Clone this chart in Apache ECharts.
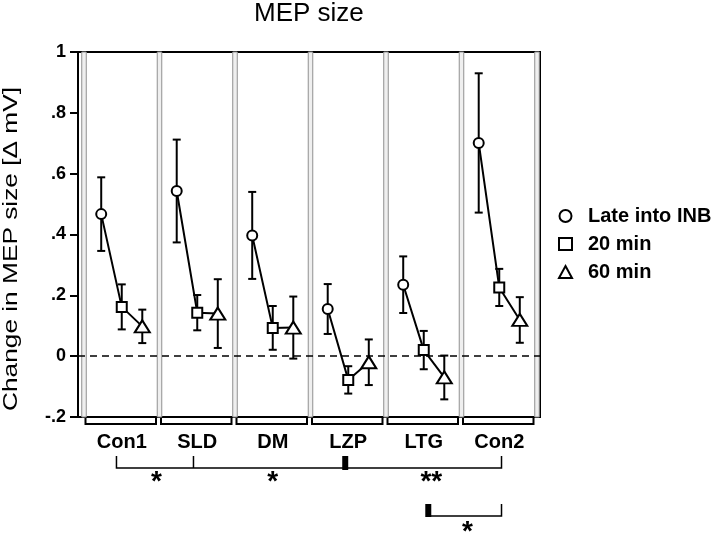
<!DOCTYPE html>
<html><head><meta charset="utf-8">
<script src="https://cdn.jsdelivr.net/npm/echarts@6/dist/echarts.min.js"></script>
<style>html,body{margin:0;padding:0;background:#fff}#c{width:720px;height:534px}</style>
</head><body><div id="c"></div>
<script>
// ---- data ----
const categories = ['Con1', 'SLD', 'DM', 'LZP', 'LTG', 'Con2'];
const seriesNames = ['Late into INB', '20 min', '60 min'];
const lateMean  = [0.467, 0.543, 0.397, 0.155, 0.235, 0.701];
const lateErr   = [0.121, 0.169, 0.143, 0.082, 0.093, 0.229];
const min20Mean = [0.162, 0.143, 0.093, -0.078, 0.020, 0.226];
const min20Err  = [0.074, 0.058, 0.072, 0.045, 0.063, 0.061];
const min60Mean = [0.098, 0.140, 0.094, -0.020, -0.070, 0.119];
const min60Err  = [0.055, 0.113, 0.102, 0.075, 0.072, 0.075];
const yTickLabels = ['-.2', '0', '.2', '.4', '.6', '.8', '1'];
const sigLabels = ['*', '*', '**', '*'];

// ---- layout ----
const FONT = '"Liberation Sans", Arial, Helvetica, sans-serif';
const OFF = 0.272;               // offset of time points within a group
const xMin = -0.5 - 6 / 75.5, xMax = 5.5 + 3 / 75.5;
const means = [lateMean, min20Mean, min60Mean];
const errs = [lateErr, min20Err, min60Err];
const offs = [-OFF, 0, OFF];
const symbols = ['circle', 'rect', 'triangle'];
const sizes = [10, 10, [15, 12]];

const chart = echarts.init(document.getElementById('c'), null, {renderer: 'canvas'});

// connecting lines, broken between groups
const lineData = [];
categories.forEach((c, g) => {
  for (let s = 0; s < 3; s++) lineData.push([g + offs[s], means[s][g]]);
  lineData.push([g + 0.5, '-']);
});
const errData = [];
for (let s = 0; s < 3; s++) categories.forEach((c, g) => errData.push([g + offs[s], means[s][g], errs[s][g]]));

const sepAreas = [];
for (let k = 0; k <= 6; k++) sepAreas.push([{xAxis: k - 0.5 - 0.03}, {xAxis: k - 0.5 + 0.03}]);

const option = {
  animation: false,
  backgroundColor: '#fff',
  title: {text: 'MEP size', left: 254, top: 1, padding: 0,
    textStyle: {fontFamily: FONT, fontSize: 26, fontWeight: 'normal', color: '#000'}},
  legend: {
    orient: 'vertical', left: 553, top: 201, itemGap: 8, itemWidth: 13, itemHeight: 12,
    data: [{name: seriesNames[0], icon: 'circle'}, {name: seriesNames[1], icon: 'rect'},
           {name: seriesNames[2], icon: 'triangle'}],
    selectedMode: false,
    itemStyle: {color: '#fff', borderColor: '#000', borderWidth: 2, opacity: 1},
    textStyle: {fontFamily: FONT, fontSize: 20, fontWeight: 'bold', color: '#000', padding: [0, 0, 0, 11]}
  },
  grid: [
    {left: 78, right: 180, top: 52, bottom: 117, show: true, borderColor: '#000', borderWidth: 2, backgroundColor: 'transparent'},
    {left: 84, right: 183, top: 52, bottom: 117}
  ],
  xAxis: [
    {type: 'value', gridIndex: 0, min: xMin, max: xMax, show: false},
    {type: 'category', gridIndex: 1, data: categories, boundaryGap: true,
     axisLine: {show: false}, axisTick: {show: false}, splitLine: {show: false},
     axisLabel: {margin: 15, fontFamily: FONT, fontSize: 20, fontWeight: 'bold', color: '#000'}}
  ],
  yAxis: [
    {type: 'value', gridIndex: 0, min: -0.2, max: 1, interval: 0.2,
     axisLine: {show: true, onZero: false, lineStyle: {color: '#000', width: 2}},
     axisTick: {show: true, inside: false, length: 8, lineStyle: {color: '#000', width: 2}},
     splitLine: {show: false},
     axisLabel: {margin: 12, fontFamily: FONT, fontSize: 18, fontWeight: 'bold', color: '#000',
       formatter: v => yTickLabels[Math.round((v + 0.2) / 0.2)]}},
    {type: 'value', gridIndex: 1, min: -0.2, max: 1, show: false}
  ],
  series: [
    {type: 'line', xAxisIndex: 0, yAxisIndex: 0, data: lineData, showSymbol: false, connectNulls: false,
     lineStyle: {color: '#000', width: 2}, silent: true, z: 2,
     markArea: {silent: true, itemStyle: {color: '#efefef', borderColor: '#909090', borderWidth: 1}, data: sepAreas},
     markLine: {silent: true, symbol: ['none', 'none'], label: {show: false},
       lineStyle: {color: '#000', type: [7, 5], width: 1.5}, data: [{yAxis: 0}]}},
    {type: 'custom', xAxisIndex: 0, yAxisIndex: 0, data: errData, z: 3, silent: true,
     encode: {x: 0, y: 1},
     renderItem: function (params, api) {
       const x = api.value(0), m = api.value(1), e = api.value(2);
       const t = api.coord([x, m + e]), b = api.coord([x, m - e]);
       const w = 4;
       const st = {stroke: '#000', lineWidth: 2};
       return {type: 'group', children: [
         {type: 'line', shape: {x1: t[0], y1: t[1], x2: b[0], y2: b[1]}, style: st},
         {type: 'line', shape: {x1: t[0] - w, y1: t[1], x2: t[0] + w, y2: t[1]}, style: st},
         {type: 'line', shape: {x1: b[0] - w, y1: b[1], x2: b[0] + w, y2: b[1]}, style: st}
       ]};
     }}
  ].concat(seriesNames.map((n, s) => ({
    type: 'scatter', name: n, xAxisIndex: 0, yAxisIndex: 0, z: 5,
    symbol: symbols[s], symbolSize: sizes[s],
    itemStyle: {color: '#fff', borderColor: '#000', borderWidth: 2, opacity: 1},
    emphasis: {disabled: true},
    data: categories.map((c, g) => [g + offs[s], means[s][g]])
  })))
};
chart.setOption(option);

// ---- decorations below the axis, positioned through the axis scales ----
const px = v => chart.convertToPixel({xAxisIndex: 0}, v);
const py = v => chart.convertToPixel({yAxisIndex: 0}, v);
const yb = py(-0.2);
const g = [];
const blk = {stroke: '#000', lineWidth: 2, fill: null};
for (let k = 0; k < 6; k++) {
  const x1 = px(k - 0.5) + 1.5, x2 = px(k + 0.5) - 3.5;
  g.push({type: 'polyline', shape: {points: [[x1, yb], [x1, yb + 7], [x2, yb + 7], [x2, yb]]}, style: blk});
}
const thin = {stroke: '#000', lineWidth: 1.5, fill: null};
// bracket 1
const a = px(-0.07), bS = px(0.95), bL = px(2.96), cE = px(5.03);
const l1 = yb + 51, t1 = yb + 39;
g.push({type: 'polyline', shape: {points: [[a, t1], [a, l1], [cE, l1], [cE, t1]]}, style: thin});
g.push({type: 'line', shape: {x1: bS, y1: t1, x2: bS, y2: l1}, style: thin});
g.push({type: 'rect', shape: {x: bL - 3, y: t1, width: 6, height: 14}, style: {fill: '#000'}});
// bracket 2
const bT = px(4.06);
const l2 = yb + 99, t2 = yb + 87;
g.push({type: 'polyline', shape: {points: [[bT, l2], [cE, l2], [cE, t2]]}, style: thin});
g.push({type: 'rect', shape: {x: bT - 3, y: t2, width: 6, height: 13}, style: {fill: '#000'}});
// stars
const starPos = [[0.46, yb + 60], [2.0, yb + 60], [4.1, yb + 60], [4.58, yb + 110]];
starPos.forEach((p, i) => g.push({type: 'text', x: px(p[0]), y: p[1] + 5,
  style: {text: sigLabels[i], font: 'bold 28px ' + FONT, fill: '#000', align: 'center', verticalAlign: 'middle'}}));
// y axis title
g.push({type: 'text', x: 11, y: 249, rotation: Math.PI / 2, scaleX: 1.25,
  style: {text: 'Change in MEP size [\u0394 mV]', font: '21px ' + FONT, fill: '#000', align: 'center', verticalAlign: 'middle'}});
chart.setOption({graphic: g});
</script></body></html>
